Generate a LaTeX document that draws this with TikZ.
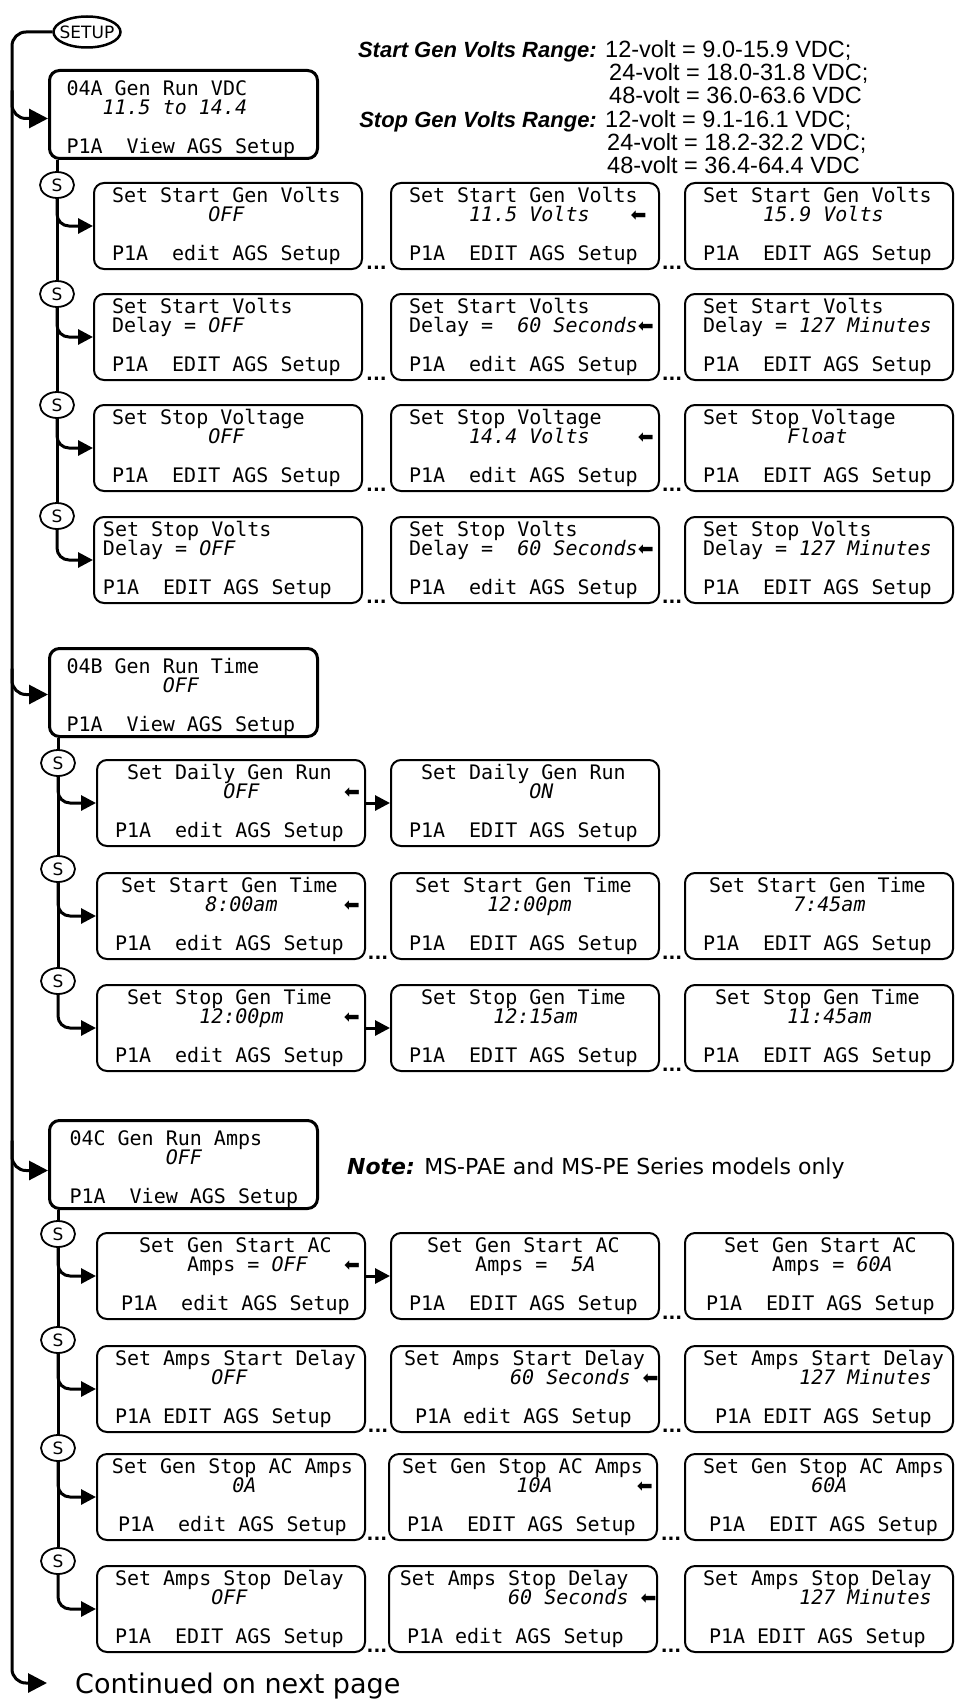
\documentclass[tikz,border=0pt]{standalone}
\usepackage{fontspec}
\setmainfont{Liberation Sans}
\setsansfont{DejaVu Sans}
\setmonofont{DejaVu Sans Mono}
\usetikzlibrary{arrows.meta,shapes.geometric,calc}
\newlength{\cw}
\setlength{\cw}{12.04pt}
\newcommand{\ind}[1]{\hspace*{#1\cw}}
\newcommand{\larr}{{\sffamily\fontsize{19}{19}\selectfont ⬅}}
\newcommand{\lcdfont}{\ttfamily\fontsize{20}{19.3}\selectfont\lineskiplimit=-50pt}
\newcommand{\lcdline}[1]{\mbox{\spaceskip=\cw\relax\xspaceskip=\cw\relax #1}}
\newcommand{\screen}[3]{\lcdline{#1}\\\lcdline{#2}\\\mbox{}\\\lcdline{#3}}
\begin{document}
\begin{tikzpicture}[x=1pt, y=-1pt,
  lcd/.style={draw, line width=2pt, rounded corners=10pt, anchor=north west,
    minimum width=268pt, minimum height=86pt, text width=232pt,
    inner xsep=18pt, inner ysep=0pt, align=left, font=\lcdfont},
  hd/.style={lcd, line width=3pt, minimum height=88pt, text width=234pt, inner xsep=17pt},
  sbub/.style={draw, ellipse, line width=1.8pt, minimum width=34pt, minimum height=26pt,
    inner sep=0pt, font=\sffamily\fontsize{17}{17}\selectfont},
  conn/.style={line width=3pt},
  subarrow/.style={conn, rounded corners=12pt, -{Triangle[length=15pt,width=15pt]}},
  trunkarrow/.style={conn, rounded corners=14pt, -{Triangle[length=19pt,width=19pt]}},
  dots/.style={anchor=south, inner sep=0pt, font=\sffamily\bfseries\fontsize{18}{18}\selectfont},
  rangehead/.style={anchor=base east, inner sep=0pt, font=\fontsize{22}{23}\selectfont\bfseries\itshape},
  rangeval/.style={anchor=base west, inner sep=0pt, font=\fontsize{23.5}{23}\selectfont}]
\useasboundingbox (0,0) rectangle (954,1699);
% Entry point and main trunk
\node[draw, ellipse, line width=2.5pt, minimum width=67pt, minimum height=31pt,
  inner xsep=-5pt, inner ysep=2pt, font=\sffamily\fontsize{17}{17}\selectfont] (setup) at (87,32) {SETUP};
\coordinate (trunkend) at (12,1683);
\coordinate (contend) at (47,1683);
\draw[trunkarrow] (setup.west) -| (trunkend) -- (contend);
\node[anchor=base west, inner sep=0pt, font=\sffamily\fontsize{27}{27}\selectfont] (cont) at (75,1693) {Continued on next page};
% Voltage ranges
\node[rangehead] (rs0) at (597,58) {Start Gen Volts Range:};
\node[rangeval] (rs1) at (605,58) {12-volt = 9.0-15.9 VDC;};
\node[rangeval] (rs2) at (609,81) {24-volt = 18.0-31.8 VDC;};
\node[rangeval] (rs3) at (609,104) {48-volt = 36.0-63.6 VDC};
\node[rangehead] (rp0) at (597,128) {Stop Gen Volts Range:};
\node[rangeval] (rp1) at (605,128) {12-volt = 9.1-16.1 VDC;};
\node[rangeval] (rp2) at (607,151) {24-volt = 18.2-32.2 VDC;};
\node[rangeval] (rp3) at (607,174) {48-volt = 36.4-64.4 VDC};

% 04A Gen Run VDC
\node[hd] (hdA) at (48,69) {\screen{\rule{0pt}{24pt}04A Gen Run VDC}{\ind{3}\textit{11.5 to 14.4}}{P1A\ind{2}View AGS Setup}};
\draw[trunkarrow] ([yshift=24pt]hdA.west -| trunkend) |- ([yshift=-4pt]hdA.west);
\node[sbub] (sA1) at (57,185) {S};
\node[sbub] (sA2) at (57,294) {S};
\node[sbub] (sA3) at (57,405) {S};
\node[sbub] (sA4) at (57,516) {S};
\draw[conn] (hdA.south -| sA1) -- (sA1.north);
\draw[conn] (sA1.south) -- (sA2.north);
\draw[conn] (sA2.south) -- (sA3.north);
\draw[conn] (sA3.south) -- (sA4.north);
\node[lcd] (a11) at (93,182) {\screen{Set Start Gen Volts}{\ind{8}\textit{OFF}}{P1A\ind{2}edit AGS Setup}};
\node[lcd] (a12) at (390,182) {\screen{Set Start Gen Volts}{\ind{5}\textit{11.5 Volts}\ind{3.4}\larr}{P1A\ind{2}EDIT AGS Setup}};
\node[lcd] (a13) at (684,182) {\screen{Set Start Gen Volts}{\ind{5}\textit{15.9 Volts}}{P1A\ind{2}EDIT AGS Setup}};
\node[lcd] (a21) at (93,293) {\screen{Set Start Volts}{Delay = \textit{OFF}}{P1A\ind{2}EDIT AGS Setup}};
\node[lcd] (a22) at (390,293) {\screen{Set Start Volts}{Delay =\ind{2}\textit{60 Seconds}\larr}{P1A\ind{2}edit AGS Setup}};
\node[lcd] (a23) at (684,293) {\screen{Set Start Volts}{Delay = \textit{127 Minutes}}{P1A\ind{2}EDIT AGS Setup}};
\node[lcd] (a31) at (93,404) {\screen{Set Stop Voltage}{\ind{8}\textit{OFF}}{P1A\ind{2}EDIT AGS Setup}};
\node[lcd] (a32) at (390,404) {\screen{Set Stop Voltage}{\ind{5}\textit{14.4 Volts}\ind{4}\larr}{P1A\ind{2}edit AGS Setup}};
\node[lcd] (a33) at (684,404) {\screen{Set Stop Voltage}{\ind{7}\textit{Float}}{P1A\ind{2}EDIT AGS Setup}};
\node[lcd] (a41) at (93,516) {\screen{\ind{-0.75}Set Stop Volts}{\ind{-0.75}Delay = \textit{OFF}}{\ind{-0.75}P1A\ind{2}EDIT AGS Setup}};
\node[lcd] (a42) at (390,516) {\screen{Set Stop Volts}{Delay =\ind{2}\textit{60 Seconds}\larr}{P1A\ind{2}edit AGS Setup}};
\node[lcd] (a43) at (684,516) {\screen{Set Stop Volts}{Delay = \textit{127 Minutes}}{P1A\ind{2}EDIT AGS Setup}};
\draw[subarrow] (sA1.south) |- (a11.west);
\draw[subarrow] (sA2.south) |- (a21.west);
\draw[subarrow] (sA3.south) |- (a31.west);
\draw[subarrow] (sA4.south) |- (a41.west);
\node[dots] (da11) at ($(a11.south east)!.5!(a12.south west)$) {...};
\node[dots] (da12) at ($(a12.south east)!.5!(a13.south west)$) {...};
\node[dots] (da21) at ($(a21.south east)!.5!(a22.south west)$) {...};
\node[dots] (da22) at ($(a22.south east)!.5!(a23.south west)$) {...};
\node[dots] (da31) at ($(a31.south east)!.5!(a32.south west)$) {...};
\node[dots] (da32) at ($(a32.south east)!.5!(a33.south west)$) {...};
\node[dots] (da41) at ($(a41.south east)!.5!(a42.south west)$) {...};
\node[dots] (da42) at ($(a42.south east)!.5!(a43.south west)$) {...};

% 04B Gen Run Time
\node[hd] (hdB) at (48,647) {\screen{\rule{0pt}{24pt}04B Gen Run Time}{\ind{8}\textit{OFF}}{P1A\ind{2}View AGS Setup}};
\draw[trunkarrow] ([yshift=24pt]hdB.west -| trunkend) |- ([yshift=-2pt]hdB.west);
\node[sbub] (sB1) at (58,763) {S};
\node[sbub] (sB2) at (58,869) {S};
\node[sbub] (sB3) at (58,981) {S};
\draw[conn] (hdB.south -| sB1) -- (sB1.north);
\draw[conn] (sB1.south) -- (sB2.north);
\draw[conn] (sB2.south) -- (sB3.north);
\node[lcd] (b11) at (96,759) {\screen{\ind{1}Set Daily Gen Run}{\ind{9}\textit{OFF}\ind{7}\larr}{P1A\ind{2}edit AGS Setup}};
\node[lcd] (b12) at (390,759) {\screen{\ind{1}Set Daily Gen Run}{\ind{10}\textit{ON}}{P1A\ind{2}EDIT AGS Setup}};
\node[lcd] (b21) at (96,872) {\screen{\ind{0.5}Set Start Gen Time}{\ind{7.5}\textit{8:00am}\ind{5.5}\larr}{P1A\ind{2}edit AGS Setup}};
\node[lcd] (b22) at (390,872) {\screen{\ind{0.5}Set Start Gen Time}{\ind{6.5}\textit{12:00pm}}{P1A\ind{2}EDIT AGS Setup}};
\node[lcd] (b23) at (684,872) {\screen{\ind{0.5}Set Start Gen Time}{\ind{7.5}\textit{7:45am}}{P1A\ind{2}EDIT AGS Setup}};
\node[lcd] (b31) at (96,984) {\screen{\ind{1}Set Stop Gen Time}{\ind{7}\textit{12:00pm}\ind{5}\larr}{P1A\ind{2}edit AGS Setup}};
\node[lcd] (b32) at (390,984) {\screen{\ind{1}Set Stop Gen Time}{\ind{7}\textit{12:15am}}{P1A\ind{2}EDIT AGS Setup}};
\node[lcd] (b33) at (684,984) {\screen{\ind{1}Set Stop Gen Time}{\ind{7}\textit{11:45am}}{P1A\ind{2}EDIT AGS Setup}};
\draw[subarrow] (sB1.south) |- (b11.west);
\draw[subarrow] (sB2.south) |- (b21.west);
\draw[subarrow] (sB3.south) |- (b31.west);
\draw[subarrow] (b11.east) -- (b12.west);
\draw[subarrow] (b31.east) -- (b32.west);
\node[dots] (db21) at ($(b21.south east)!.5!(b22.south west)$) {...};
\node[dots] (db22) at ($(b22.south east)!.5!(b23.south west)$) {...};
\node[dots] (db32) at ($(b32.south east)!.5!(b33.south west)$) {...};

% 04C Gen Run Amps
\node[hd] (hdC) at (48,1119) {\screen{\rule{0pt}{24pt}\ind{0.25}04C Gen Run Amps}{\ind{8.25}\textit{OFF}}{\ind{0.25}P1A\ind{2}View AGS Setup}};
\draw[trunkarrow] ([yshift=24pt]hdC.west -| trunkend) |- ([yshift=-6pt]hdC.west);
\node[anchor=base west, inner sep=0pt, font=\sffamily\fontsize{22}{22}\selectfont] (note) at (347,1174)
  {\textbf{\textit{Note:}} MS-PAE and MS-PE Series models only};
\node[sbub] (sC1) at (58,1234) {S};
\node[sbub] (sC2) at (58,1340) {S};
\node[sbub] (sC3) at (58,1448) {S};
\node[sbub] (sC4) at (58,1561) {S};
\draw[conn] (hdC.south -| sC1) -- (sC1.north);
\draw[conn] (sC1.south) -- (sC2.north);
\draw[conn] (sC2.south) -- (sC3.north);
\draw[conn] (sC3.south) -- (sC4.north);
\node[lcd] (c11) at (96,1232) {\screen{\ind{2}Set Gen Start AC}{\ind{6}Amps = \textit{OFF}\ind{3}\larr}{\ind{0.5}P1A\ind{2}edit AGS Setup}};
\node[lcd] (c12) at (390,1232) {\screen{\ind{1.5}Set Gen Start AC}{\ind{5.5}Amps =\ind{2}\textit{5A}}{P1A\ind{2}EDIT AGS Setup}};
\node[lcd] (c13) at (684,1232) {\screen{\ind{1.75}Set Gen Start AC}{\ind{5.75}Amps = \textit{60A}}{\ind{0.25}P1A\ind{2}EDIT AGS Setup}};
\node[lcd] (c21) at (96,1345) {\screen{Set Amps Start Delay}{\ind{8}\textit{OFF}}{P1A EDIT AGS Setup}};
\node[lcd] (c22) at (390,1345) {\screen{\ind{-0.4}Set Amps Start Delay}{\ind{8.4}\textit{60 Seconds} \larr}{\ind{0.5}P1A edit AGS Setup}};
\node[lcd] (c23) at (684,1345) {\screen{Set Amps Start Delay}{\ind{8}\textit{127 Minutes}}{\ind{1}P1A EDIT AGS Setup}};
\node[lcd] (c31) at (96,1453) {\screen{\ind{-0.25}Set Gen Stop AC Amps}{\ind{9.75}\textit{0A}}{\ind{0.25}P1A\ind{2}edit AGS Setup}};
\node[lcd] (c32) at (388,1453) {\screen{\ind{-0.4}Set Gen Stop AC Amps}{\ind{9.1}\textit{10A}\ind{7}\larr}{P1A\ind{2}EDIT AGS Setup}};
\node[lcd] (c33) at (684,1453) {\screen{Set Gen Stop AC Amps}{\ind{9}\textit{60A}}{\ind{0.5}P1A\ind{2}EDIT AGS Setup}};
\node[lcd] (c41) at (96,1565) {\screen{Set Amps Stop Delay}{\ind{8}\textit{OFF}}{P1A\ind{2}EDIT AGS Setup}};
\node[lcd] (c42) at (388,1565) {\screen{\ind{-0.6}Set Amps Stop Delay}{\ind{8.4}\textit{60 Seconds} \larr}{P1A edit AGS Setup}};
\node[lcd] (c43) at (684,1565) {\screen{Set Amps Stop Delay}{\ind{8}\textit{127 Minutes}}{\ind{0.5}P1A EDIT AGS Setup}};
\draw[subarrow] (sC1.south) |- (c11.west);
\draw[subarrow] (sC2.south) |- (c21.west);
\draw[subarrow] (sC3.south) |- (c31.west);
\draw[subarrow] (sC4.south) |- (c41.west);
\draw[subarrow] (c11.east) -- (c12.west);
\node[dots] (dc12) at ($(c12.south east)!.5!(c13.south west)$) {...};
\node[dots] (dc21) at ($(c21.south east)!.5!(c22.south west)$) {...};
\node[dots] (dc22) at ($(c22.south east)!.5!(c23.south west)$) {...};
\node[dots] (dc31) at ($(c31.south east)!.5!(c32.south west)$) {...};
\node[dots] (dc32) at ($(c32.south east)!.5!(c33.south west)$) {...};
\node[dots] (dc41) at ($(c41.south east)!.5!(c42.south west)$) {...};
\node[dots] (dc42) at ($(c42.south east)!.5!(c43.south west)$) {...};
\end{tikzpicture}
\end{document}
